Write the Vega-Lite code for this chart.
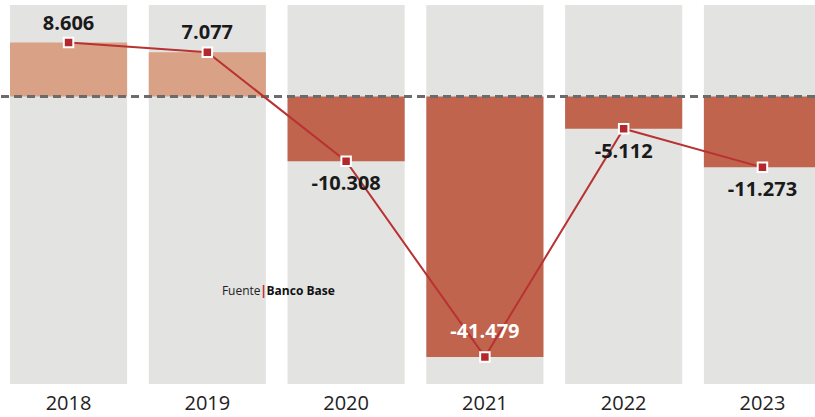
{
  "$schema": "https://vega.github.io/schema/vega-lite/v6.json",
  "autosize": {"type": "none"},
  "width": 815,
  "height": 379,
  "padding": {"top": 5, "left": 0, "right": 0, "bottom": 33},
  "background": "white",
  "config": {"view": {"stroke": null}},
  "data": {"values": [
    {"year": "2018", "value": 8.606, "label": "8.606"},
    {"year": "2019", "value": 7.077, "label": "7.077"},
    {"year": "2020", "value": -10.308, "label": "-10.308"},
    {"year": "2021", "value": -41.479, "label": "-41.479"},
    {"year": "2022", "value": -5.112, "label": "-5.112"},
    {"year": "2023", "value": -11.273, "label": "-11.273"}
  ]},
  "encoding": {
    "x": {
      "field": "year", "type": "nominal",
      "scale": {"range": [0, 831], "paddingInner": 0.156, "paddingOuter": 0.072},
      "axis": {"title": null, "domain": false, "ticks": false, "labelAngle": 0, "labelFont": "Open Sans", "labelFontSize": 20, "labelColor": "#222", "labelPadding": 9}
    }
  },
  "layer": [
    {
      "mark": {"type": "bar", "color": "#e3e3e2"},
      "encoding": {
        "y": {"datum": 14.6, "type": "quantitative", "scale": {"domain": [-45.8, 14.6], "nice": false, "zero": false}, "axis": null},
        "y2": {"datum": -45.8}
      }
    },
    {
      "mark": {"type": "bar"},
      "encoding": {
        "y": {"field": "value", "type": "quantitative"},
        "y2": {"datum": 0},
        "color": {"condition": {"test": "datum.value > 0", "value": "#d9a185"}, "value": "#c0644d"}
      }
    },
    {
      "mark": {"type": "rule", "color": "#6b6b6b", "strokeWidth": 2, "strokeDash": [8, 5]},
      "encoding": {"y": {"datum": 0}, "x": null}
    },
    {
      "mark": {"type": "line", "color": "#b83232", "strokeWidth": 2},
      "encoding": {"y": {"field": "value", "type": "quantitative"}}
    },
    {
      "mark": {"type": "point", "shape": "square", "size": 90, "filled": true, "fill": "#b3282d", "stroke": "white", "strokeWidth": 2, "opacity": 1},
      "encoding": {"y": {"field": "value", "type": "quantitative"}}
    },
    {
      "transform": [{"filter": "datum.value > 0"}],
      "mark": {"type": "text", "font": "Open Sans", "fontWeight": "bold", "fontSize": 20, "color": "#1a1a1a", "baseline": "middle", "dy": -19},
      "encoding": {"y": {"field": "value", "type": "quantitative"}, "text": {"field": "label"}}
    },
    {
      "transform": [{"filter": "datum.value < 0 && datum.value > -40"}],
      "mark": {"type": "text", "font": "Open Sans", "fontWeight": "bold", "fontSize": 20, "color": "#1a1a1a", "baseline": "middle", "dy": 23},
      "encoding": {"y": {"field": "value", "type": "quantitative"}, "text": {"field": "label"}}
    },
    {
      "transform": [{"filter": "datum.value < -40"}],
      "mark": {"type": "text", "font": "Open Sans", "fontWeight": "bold", "fontSize": 20, "color": "white", "baseline": "middle", "dy": -25},
      "encoding": {"y": {"field": "value", "type": "quantitative"}, "text": {"field": "label"}}
    },
    {
      "data": {"values": [{"t": "Fuente"}]},
      "mark": {"type": "text", "font": "Open Sans", "fontSize": 12, "color": "#222", "align": "right", "baseline": "middle", "dx": -27},
      "encoding": {"x": {"datum": "2020", "bandPosition": 0}, "y": {"datum": -31}, "text": {"field": "t"}}
    },
    {
      "data": {"values": [{"t": "|"}]},
      "mark": {"type": "text", "font": "Open Sans", "fontSize": 13, "fontWeight": "bold", "color": "#c0282d", "align": "center", "baseline": "middle", "dx": -24},
      "encoding": {"x": {"datum": "2020", "bandPosition": 0}, "y": {"datum": -31}, "text": {"field": "t"}}
    },
    {
      "data": {"values": [{"t": "Banco Base"}]},
      "mark": {"type": "text", "font": "Open Sans", "fontSize": 12, "fontWeight": "bold", "color": "#111", "align": "left", "baseline": "middle", "dx": -21},
      "encoding": {"x": {"datum": "2020", "bandPosition": 0}, "y": {"datum": -31}, "text": {"field": "t"}}
    }
  ]
}
